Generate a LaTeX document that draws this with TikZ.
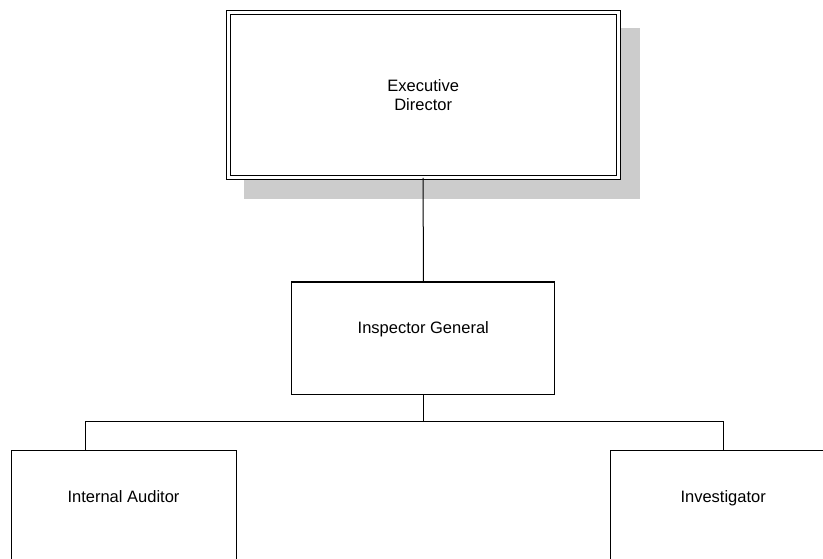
\documentclass[tikz,border=0pt]{standalone}
\usepackage{fontspec}
\setmainfont{Liberation Sans}
\usetikzlibrary{
  positioning,
  backgrounds
}

\begin{document}
\begin{tikzpicture}[
      x=1pt, y=-1pt,
      line width=1pt,
      orgbox/.style={
         rectangle,
         draw=black,
         fill=white,
         minimum height=112pt,
         font=\fontsize{16.5}{19.3}\selectfont,
         text height=12pt,
         text depth=20pt
      },
      headbox/.style={
         rectangle,
         draw=black,
         double=white,
         double distance=3pt,
         fill=white,
         align=center,
         font=\fontsize{16.5}{19.3}\selectfont
      },
      shadowfill/.style={fill=black!20},
      link/.style={draw=black}
    ]
    \useasboundingbox (0,0) rectangle (823,559);
    \clip (0,0) rectangle (823,559);

    \node (exec) [headbox, minimum width=390pt, minimum height=164.5pt] at (423.2,95.25) {Executive\\Director};
    \node (insp) [orgbox, minimum width=263.3pt] at (423.3,338) {Inspector General};
    \node (audit) [orgbox, minimum width=225pt] at (123.5,506.7) {Internal Auditor};
    \node (invest) [orgbox, minimum width=225pt] at (723.2,506.7) {Investigator};

    \begin{scope}[on background layer]
      \fill[shadowfill] ([shift={(16pt,-16pt)}]exec.north west) rectangle ([shift={(21pt,-21pt)}]exec.south east);
    \end{scope}

    % reporting lines
    \draw[link] (exec.south) -- (insp.north);
    \draw[link] (insp.south) -- ++(0,27) coordinate (bus);
    \draw[link] ([xshift=-37.8pt]audit.north) |- (bus) -| (invest.north);
\end{tikzpicture}
\end{document}
